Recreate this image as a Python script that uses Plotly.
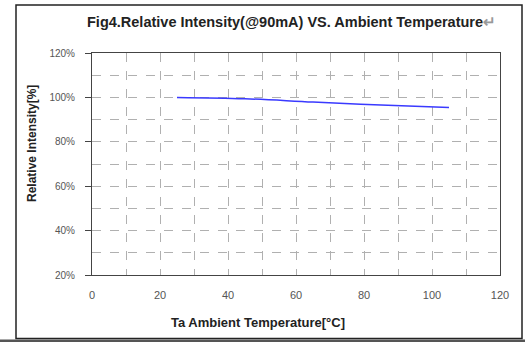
import plotly.graph_objects as go

temperature = [25, 45, 65, 85, 105]
relative_intensity = [100.0, 99.4, 97.9, 96.6, 95.5]

x_ticks = [0, 20, 40, 60, 80, 100, 120]
y_ticks = [20, 40, 60, 80, 100, 120]
y_tick_labels = ["20%", "40%", "60%", "80%", "100%", "120%"]

title_text = "Fig4.Relative Intensity(@90mA) VS. Ambient Temperature"
x_title = "Ta Ambient Temperature[°C]"
y_title = "Relative Intensity[%]"

fig = go.Figure()
fig.add_trace(go.Scatter(x=temperature, y=relative_intensity, mode="lines",
                         line=dict(color="#3a3aff", width=1.5, shape="spline"), showlegend=False))

grid = dict(showgrid=True, gridcolor="#b0b0b0", griddash="dash", gridwidth=1)
fig.update_xaxes(range=[0, 120], tickvals=x_ticks, **grid,
                 minor=dict(dtick=10, showgrid=True, gridcolor="#b0b0b0", griddash="dash"),
                 showline=True, linecolor="#444", linewidth=1, mirror=True,
                 ticks="", zeroline=False,
                 tickfont=dict(family="Liberation Sans", size=11, color="#555"),
                 ticklabelstandoff=10)
fig.update_yaxes(range=[20, 120], tickvals=y_ticks, ticktext=y_tick_labels, **grid,
                 minor=dict(dtick=10, showgrid=True, gridcolor="#b0b0b0", griddash="dash"),
                 showline=True, linecolor="#444", linewidth=1, mirror=True,
                 ticks="outside", ticklen=6, tickcolor="#444", zeroline=False,
                 tickfont=dict(family="Liberation Sans", size=10, color="#555"),
                 ticklabelstandoff=8)

fig.add_annotation(text=title_text + "<span style='color:#999'>↵</span>", xref="paper", yref="paper",
                   x=0.49, y=1.0, yshift=41, showarrow=False,
                   font=dict(family="Liberation Sans", size=14.5, color="#222", weight="bold"))
fig.add_annotation(text=x_title, xref="paper", yref="paper", x=(258-92)/408, y=0, yshift=-57,
                   showarrow=False,
                   font=dict(family="Liberation Sans", size=13, color="#222", weight="bold"))
fig.add_annotation(text=y_title, xref="paper", yref="paper", x=0, y=(275-144)/222, xshift=-69,
                   textangle=-90, showarrow=False,
                   font=dict(family="Liberation Sans", size=12, color="#222", weight="bold"))

# outer frame
fig.add_shape(type="rect", xref="paper", yref="paper",
              x0=-76/408, x1=(522-92)/408, y0=-(338.5-275)/222, y1=(275-5)/222,
              line=dict(color="#222", width=1.5))
fig.add_shape(type="rect", xref="paper", yref="paper",
              x0=-92/408, x1=(525-92)/408, y0=-(343-275)/222, y1=-(339.5-275)/222,
              line=dict(width=0), fillcolor="#555")

fig.update_layout(width=525, height=342, margin=dict(l=92, r=25, t=53, b=67),
                  paper_bgcolor="white", plot_bgcolor="white")
fig.write_html("out.html", config={"displayModeBar": False},
               post_script="document.body.style.margin='0';")
